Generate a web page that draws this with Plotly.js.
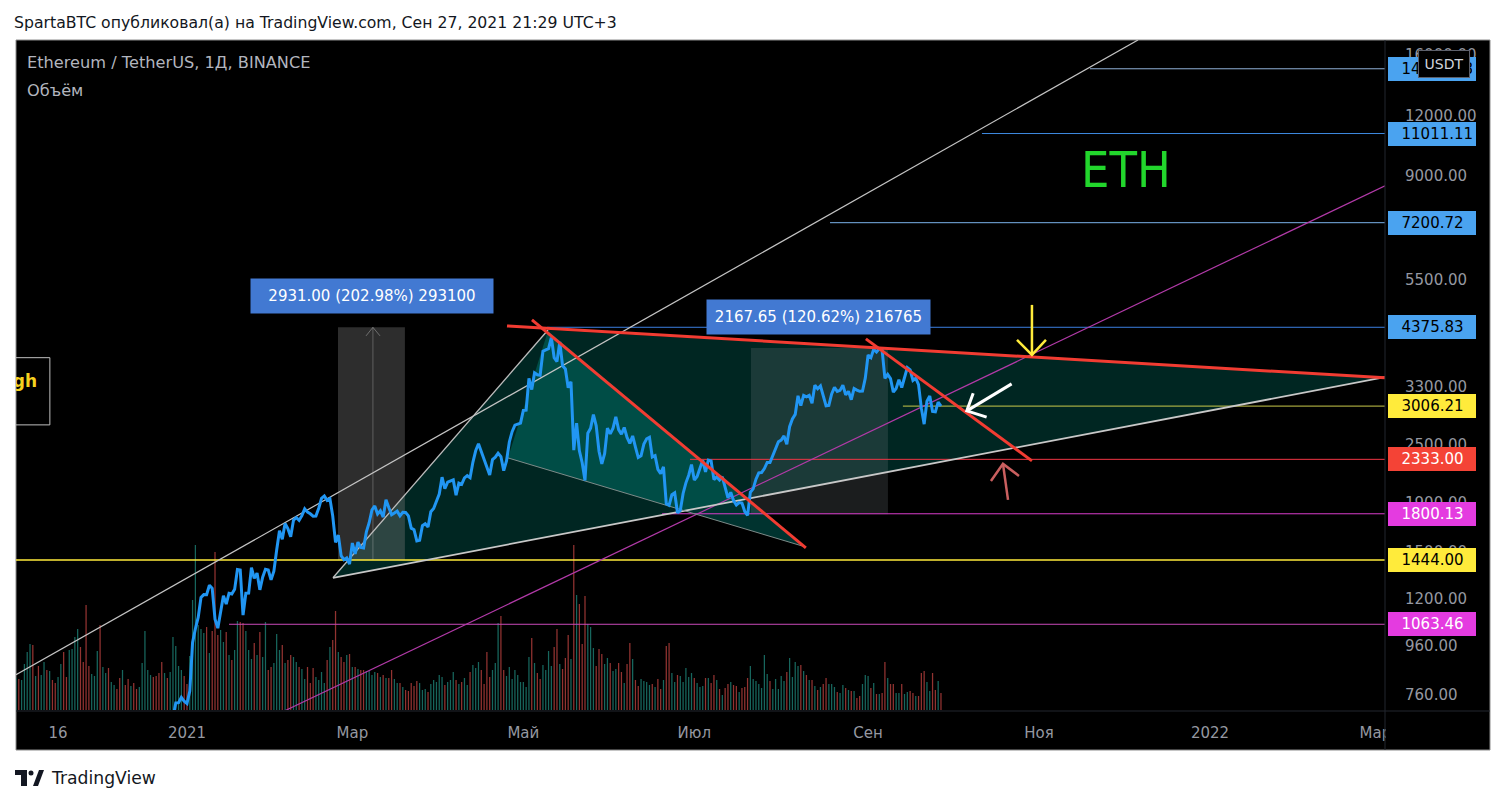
<!DOCTYPE html>
<html>
<head>
<meta charset="utf-8">
<script src="https://cdn.plot.ly/plotly-3.0.1.min.js"></script>
<style>
html,body{margin:0;padding:0;background:#ffffff;}
#chart{width:1507px;height:805px;}
</style>
</head>
<body>
<div id="chart"></div>
<script>
// ================= DATA =================
// Daily closes ETH/USDT (Binance), from 2020-12-26 to 2021-09-27
const priceStart = '2020-12-26';
const closes = [
  635,683,731,732,751,737,
  729,774,975,1041,1099,1208,1225,1224,1281,1262,1090,1044,1130,1218,1171,1233,1229,1256,1380,1377,1111,1233,1234,1392,1324,1357,1253,1331,1382,1377,1314,
  1369,1515,1660,1594,1719,1677,1614,1746,1768,1744,1784,1843,1814,1800,1779,1781,1848,1938,1960,1919,1935,1781,1571,1626,1475,1446,1459,1417,
  1566,1487,1573,1533,1529,1651,1725,1834,1868,1798,1826,1772,1924,1854,1791,1806,1823,1782,1812,1811,1782,1681,1669,1582,1587,1701,1716,1691,1818,1846,1919,
  1977,2143,2028,2093,2108,2115,1967,2083,2071,2135,2158,2138,2300,2430,2513,2422,2311,2237,2166,2330,2357,2402,2364,2211,2316,2534,2662,2746,2757,2773,
  2945,2949,3431,3253,3523,3491,3483,3902,3928,3952,4168,3785,3715,4079,3643,3588,3282,3376,2438,2771,2430,2295,2109,2643,2706,2888,2736,2425,2282,2396,2706,
  2634,2706,2855,2688,2630,2715,2590,2517,2608,2472,2353,2372,2508,2573,2591,2360,2375,2224,2180,2251,1887,1874,1971,1989,1809,1829,1983,2086,2163,2275,
  2114,2150,2226,2322,2198,2324,2316,2118,2146,2115,2146,2037,1941,1994,1917,1877,1899,1894,1820,1787,1995,2027,2123,2188,2191,2233,2299,2298,2380,2462,2536,
  2557,2608,2506,2725,2827,2890,3157,3012,3163,3141,3164,3047,3322,3266,3310,3149,3011,3017,3186,3288,3225,3240,3322,3173,3225,3099,3270,3245,3225,3228,3434,
  3834,3787,3941,3888,3952,3927,3431,3497,3427,3213,3270,3410,3285,3430,3611,3571,3398,3433,3330,2977,2759,3077,3155,2930,2925,3063,3006
];

// Daily volume (x10k ETH), from 2020-11-01 to 2021-09-27
const volumeStart = '2020-11-01';
const volume = [
  32,
  31,30,46,58,66,65,34,44,35,48, 40,39,30,27,33,46,58,33,60,61,
  73,81,63,48,105,44,36,34,59,85, 43,37,42,28,25,21,32,40,25,31,
  24,27,21,23,47,79,40,35,33,34, 37,48,37,32,38,73,64,44,40,34,
  26,54,110,165,85,81,77,83,57,79,
  158,
  75,80,68,78,55,50,60,
  89,88,87,79,60,51,67,55,78,53, 88,40,43,47,76,60,65,47,50,55,
  53,48,43,41,31,43,27,42,33,30, 38,27,50,63,70,99,58,53,48,55,
  56,43,43,41,40,40,39,39,35,38, 37,33,35,32,32,40,31,27,27,23,
  20,19,27,24,29,27,20,21,18,
  26,30,28,35,33,25,28,30,38,30,26,28,32,25,38,45,42,48,
  40,26,58,33,40,47,87,94,40,34, 43,31,40,35,28,28,23,53,72,47,
  37,31,45,40,59,44,63,81,46,41, 52,75,51,165,115,106,66,114,86,83,
  62,44,61,56,46,52,47,39,41,47, 38,27,46,67,51,30,24,31,29,28,
  25,26,23,31,21,30,64,67,37,28, 35,34,28,42,33,37,32,27,23,24,
  32,32,27,35,30,21,15,22,26,28, 25,24,18,22,23,32,44,31,29,26,
  22,55,36,29,21,31,21,34,29,38, 52,33,48,44,45,39,35,30,30,24,
  20,23,26,32,26,26,23,18,17,25, 22,20,19,19,12,14,26,35,34,22,
  27,16,16,17,48,32,26,26,17,17, 26,16,18,19,17,14,14,37,39,28,
  19,37,20,29,17
];
// bar direction before the close series starts (2020-11-01 .. 2020-12-26)
const dir2020 = 'u' + 'duuuududuu' + 'dudduudduu' + 'uudddduuud' + 'uuduuddudd' + 'udduuuuudd' + 'ddudu';

const xTickDates = ['2020-11-16','2021-01-01','2021-03-01','2021-05-01','2021-07-01','2021-09-01','2021-11-01','2022-01-01','2022-03-01'];
const xTickText  = ['16','2021','Мар','Май','Июл','Сен','Ноя','2022','Мар'];
const yTickVals  = [760,960,1200,1500,1900,2500,3300,5500,9000,12000,16000];
const yTickText  = ['760.00','960.00','1200.00','1500.00','1900.00','2500.00','3300.00','5500.00','9000.00','12000.00','16000.00'];

const X_START = '2020-11-01', X_END = '2022-03-04 10:00';
const P_MIN = 707, P_MAX = 17190;

// horizontal levels
const levelValues = [14988.88, 11011.11, 7200.72, 4375.83, 3006.21, 2333.00, 1800.13, 1444.00, 1063.46];
const levelText   = ['14988.88','11011.11','7200.72','4375.83','3006.21','2333.00','1800.13','1444.00','1063.46'];
const levelStart  = ['2021-11-19 04:00','2021-10-11 15:00','2021-08-18 10:00','2021-05-09 12:00','2021-09-13 10:00','2021-06-29 11:00','2021-06-19 12:00','2020-11-01','2021-01-16'];
const levelLineColor = ['#8fb0d6','#3d8ae0','#7ab2ea','#3b7fe0','#c9c94a','#f23645','#d93ccb','#ffeb3b','#c94ab9'];
const levelBoxColor  = ['#4aa3f0','#4aa3f0','#4aa3f0','#4aa3f0','#ffeb3b','#f44336','#e43be0','#ffeb3b','#e43be0'];
const levelTextColor = ['#000','#000','#000','#000','#000','#fff','#fff','#000','#fff'];

// drawings (date, price anchors)
const outerTriX = ['2021-02-22 02:00','2021-05-09 19:00','2022-03-04 10:00'];
const outerTriY = [1327, 4320, 3450];
const innerTriX = ['2021-04-25 12:00','2021-05-09 19:00','2021-08-09 12:00'];
const innerTriY = [2349, 4300, 1538];
const channelX = ['2020-11-01','2021-12-06 07:00'];
const channelY = [836, 17190];
const magentaX = ['2021-01-30 14:00','2022-03-04 10:00'];
const magentaY = [681, 8581];
const red1X = ['2021-04-25 04:00','2022-03-04 10:00'], red1Y = [4405, 3439];
const red2X = ['2021-05-04 02:00','2021-08-09 19:00'], red2Y = [4533, 1530];
const red3X = ['2021-08-31 05:00','2021-10-29 11:00'], red3Y = [4140, 2316];
const rect1X = ['2021-02-23 21:00','2021-03-19 18:00'], rect1Y = [1444, 4375];
const rect2X = ['2021-07-21 05:00','2021-09-08 02:00'], rect2Y = [1797.1, 3964.75];
const meas1Text = '2931.00 (202.98%) 293100', meas1X = '2021-03-08', meas1P = 5081;
const meas2Text = '2167.65 (120.62%) 216765', meas2X = '2021-08-14 07:00', meas2P = 4598;
const yellowArrowX = ['2021-10-29 11:00','2021-10-29 11:00',null,'2021-10-24 03:00','2021-10-29 11:00','2021-11-03 11:00'];
const yellowArrowY = [4868, 3837, null, 4120, 3837, 4120];
const whiteArrowX = ['2021-10-22 05:00','2021-10-06 05:00',null,'2021-10-08 12:00','2021-10-06 05:00','2021-10-13 07:00'];
const whiteArrowY = [3342, 2939, null, 3197, 2939, 2852];
const redArrowX = ['2021-10-20 22:00','2021-10-19 03:00',null,'2021-10-14 20:00','2021-10-19 03:00','2021-10-24 20:00'];
const redArrowY = [1924, 2283, null, 2105, 2283, 2156];
const highBoxX = ['2020-10-01','2020-11-13 02:00','2020-11-13 02:00','2020-10-01'];
const highBoxY = [3786, 3786, 2749, 2749];

// ================= BUILD =================
function dayStr(start, i){
  const d = new Date(start + 'T00:00:00Z');
  d.setUTCDate(d.getUTCDate() + i);
  return d.toISOString().slice(0,10);
}
const priceDates = closes.map((_, i) => dayStr(priceStart, i));
const volDates = volume.map((_, i) => dayStr(volumeStart, i));
const offset = Math.round((new Date(priceStart) - new Date(volumeStart)) / 864e5);
const UP = '#17665d', DOWN = '#923331';
const volColors = volume.map((_, i) => {
  const j = i - offset;
  if (j >= 1) return closes[j] >= closes[j-1] ? UP : DOWN;
  return dir2020[i] === 'u' ? UP : DOWN;
});

// pixel helpers for page decorations (outside data space)
const L = 16, T = 40, W = 1369, H = 670;
const px = x => (x - L) / W;
const py = y => (T + H - y) / H;

function seg(xs, ys, color, width){
  return {type:'scatter', mode:'lines', x:xs, y:ys, yaxis:'y2', line:{color:color, width:width}, hoverinfo:'skip', connectgaps:false};
}
function poly(xs, ys, fill){
  return {type:'scatter', mode:'lines', x:xs.concat([xs[0]]), y:ys.concat([ys[0]]), yaxis:'y2', fill:'toself', fillcolor:fill, line:{width:0, color:'rgba(0,0,0,0)'}, hoverinfo:'skip'};
}
function rectPoly(xs, ys, fill){
  return poly([xs[0], xs[1], xs[1], xs[0]], [ys[0], ys[0], ys[1], ys[1]], fill);
}

const traces = [];
traces.push({type:'bar', x:volDates, y:volume, yaxis:'y', marker:{color:volColors, line:{width:0}}, width:0.45*864e5, hoverinfo:'skip'});
traces.push(poly(outerTriX, outerTriY, 'rgba(0,150,136,0.25)'));
traces.push(poly(innerTriX, innerTriY, 'rgba(0,170,155,0.30)'));
traces.push(rectPoly(rect1X, rect1Y, 'rgba(125,125,125,0.36)'));
traces.push(rectPoly(rect2X, rect2Y, 'rgba(125,130,135,0.22)'));
traces.push(seg([meas1X+' 08:00', meas1X+' 08:00'], rect1Y, 'rgba(190,190,190,0.35)', 1));
traces.push(seg(['2021-03-05 21:00', meas1X+' 08:00', '2021-03-10 21:00'], [4200, rect1Y[1], 4200], 'rgba(190,190,190,0.45)', 1));
levelValues.forEach((v, i) => {
  traces.push(seg([levelStart[i], X_END], [v, v], levelLineColor[i], i === 7 ? 1.6 : 1));
});
traces.push(seg(channelX, channelY, '#c4c4c4', 1.2));
traces.push(seg(magentaX, magentaY, '#b23aa8', 1.2));
traces.push(seg([outerTriX[0], outerTriX[1]], [outerTriY[0], outerTriY[1]], '#bdbdbd', 1.3));
traces.push(seg([outerTriX[0], outerTriX[2]], [outerTriY[0], outerTriY[2]], '#c8c8c8', 1.8));
traces.push(seg([innerTriX[0], innerTriX[2]], [innerTriY[0], innerTriY[2]], '#7d8b89', 1));
traces.push(seg(highBoxX, highBoxY, '#bfbfbf', 1));
traces.push({type:'scatter', mode:'lines', x:priceDates, y:closes, yaxis:'y2', line:{color:'#2196f3', width:3}, hoverinfo:'skip'});
traces.push(seg(red1X, red1Y, '#f23c32', 3));
traces.push(seg(red2X, red2Y, '#f23c32', 3));
traces.push(seg(red3X, red3Y, '#f23c32', 3));
traces.push(seg(yellowArrowX, yellowArrowY, '#ffeb3b', 2.5));
traces.push(seg(whiteArrowX, whiteArrowY, '#ffffff', 3));
traces.push(seg(redArrowX, redArrowY, '#c95f5f', 2.5));
traces.push({type:'scatter', mode:'text', x:['2020-11-08 12:00'], y:[3358], yaxis:'y2', text:['<b>High</b>'], textposition:'middle left', textfont:{family:'DejaVu Sans', size:17, color:'#f5d21f'}, cliponaxis:true, hoverinfo:'skip'});

const FONT = 'DejaVu Sans';
const annotations = [];
annotations.push({xref:'paper', yref:'paper', x:px(12), y:py(22), xanchor:'left', yanchor:'middle', showarrow:false,
  text:'SpartaBTC опубликовал(а) на TradingView.com, Сен 27, 2021 21:29 UTC+3', font:{family:FONT, size:15.7, color:'#131722'}});
annotations.push({xref:'paper', yref:'paper', x:px(25), y:py(63), xanchor:'left', yanchor:'middle', showarrow:false,
  text:'Ethereum / TetherUS, 1Д, BINANCE', font:{family:FONT, size:16.2, color:'#b2b5be'}});
annotations.push({xref:'paper', yref:'paper', x:px(25), y:py(90), xanchor:'left', yanchor:'middle', showarrow:false,
  text:'Объём', font:{family:FONT, size:16.2, color:'#b2b5be'}});
annotations.push({xref:'paper', yref:'paper', x:px(1126), y:py(170), xanchor:'center', yanchor:'middle', showarrow:false,
  text:'ETH', font:{family:"'Liberation Sans Narrow', 'DejaVu Sans Condensed', sans-serif", size:50, color:'#22d62c'}});
annotations.push({xref:'x', yref:'y2', x:meas1X, y:Math.log10(meas1P), showarrow:false, text:meas1Text,
  bgcolor:'#4279d2', borderpad:6, width:230, height:22, font:{family:FONT, size:15, color:'#ffffff'}});
annotations.push({xref:'x', yref:'y2', x:meas2X, y:Math.log10(meas2P), showarrow:false, text:meas2Text,
  bgcolor:'#4279d2', borderpad:6, width:211, height:22, font:{family:FONT, size:15, color:'#ffffff'}});
levelValues.forEach((v, i) => {
  annotations.push({xref:'paper', yref:'y2', x:px(1388), y:Math.log10(v), xanchor:'left', yanchor:'middle', showarrow:false,
    text:'\u00a0\u00a0' + levelText[i], align:'left', bgcolor:levelBoxColor[i], borderpad:4, borderwidth:0, width:80, height:16,
    font:{family:FONT, size:15, color:levelTextColor[i]}});
});
annotations.push({xref:'paper', yref:'paper', x:px(1444), y:py(64), xanchor:'center', yanchor:'middle', showarrow:false,
  text:'USDT', bgcolor:'#000000', bordercolor:'#5d606b', borderwidth:1, borderpad:5, width:40,
  font:{family:FONT, size:14, color:'#d1d4dc'}});
annotations.push({xref:'paper', yref:'paper', x:px(49), y:py(778), xanchor:'left', yanchor:'middle', showarrow:false,
  text:'TradingView', font:{family:FONT, size:17.2, color:'#131722'}});

const shapes = [
  {type:'rect', xref:'paper', yref:'paper', x0:0, x1:px(1490), y0:py(750), y1:1, fillcolor:'#000000', line:{color:'#8c8c8c', width:1}, layer:'below'},
  {type:'line', xref:'paper', yref:'paper', x0:1, x1:1, y0:py(750), y1:1, line:{color:'#23262e', width:1}},
  {type:'line', xref:'paper', yref:'paper', x0:0, x1:px(1490), y0:py(711), y1:py(711), line:{color:'#23262e', width:1}},
  {type:'rect', xref:'paper', yref:'paper', x0:px(1386), x1:px(1489), y0:py(749), y1:py(712), fillcolor:'#000000', line:{width:0}, layer:'above'},
  // TradingView logo
  {type:'rect', xref:'paper', yref:'paper', x0:px(15), x1:px(27), y0:py(775), y1:py(770), fillcolor:'#131722', line:{width:0}},
  {type:'rect', xref:'paper', yref:'paper', x0:px(21), x1:px(27), y0:py(786), y1:py(775), fillcolor:'#131722', line:{width:0}},
  {type:'circle', xref:'paper', yref:'paper', x0:px(28.5), x1:px(33.5), y0:py(775.5), y1:py(770.5), fillcolor:'#131722', line:{width:0}},
  {type:'path', xref:'paper', yref:'paper', path:`M ${px(33)} ${py(786)} L ${px(38)} ${py(786)} L ${px(44)} ${py(770)} L ${px(39)} ${py(770)} Z`, fillcolor:'#131722', line:{width:0}}
];

const layout = {
  width:1507, height:805,
  margin:{l:16, r:122, t:40, b:95, pad:0},
  paper_bgcolor:'#ffffff', plot_bgcolor:'#000000',
  showlegend:false, hovermode:false, dragmode:false,
  xaxis:{type:'date', range:[X_START, X_END], showgrid:false, zeroline:false, showline:false,
    tickmode:'array', tickvals:xTickDates, ticktext:xTickText, ticks:'outside', ticklen:9, tickcolor:'rgba(0,0,0,0)',
    tickfont:{family:FONT, size:15, color:'#9598a1'}, fixedrange:true},
  yaxis:{range:[0, 670], visible:false, fixedrange:true, showgrid:false, zeroline:false},
  yaxis2:{type:'log', overlaying:'y', side:'right', range:[Math.log10(P_MIN), Math.log10(P_MAX)],
    showgrid:false, zeroline:false, showline:false, tickmode:'array', tickvals:yTickVals, ticktext:yTickText,
    ticks:'outside', ticklen:16, tickcolor:'rgba(0,0,0,0)', tickfont:{family:FONT, size:15, color:'#9598a1'}, fixedrange:true},
  shapes:shapes,
  annotations:annotations
};

Plotly.newPlot('chart', traces, layout, {staticPlot:true, displayModeBar:false});
</script>
</body>
</html>
